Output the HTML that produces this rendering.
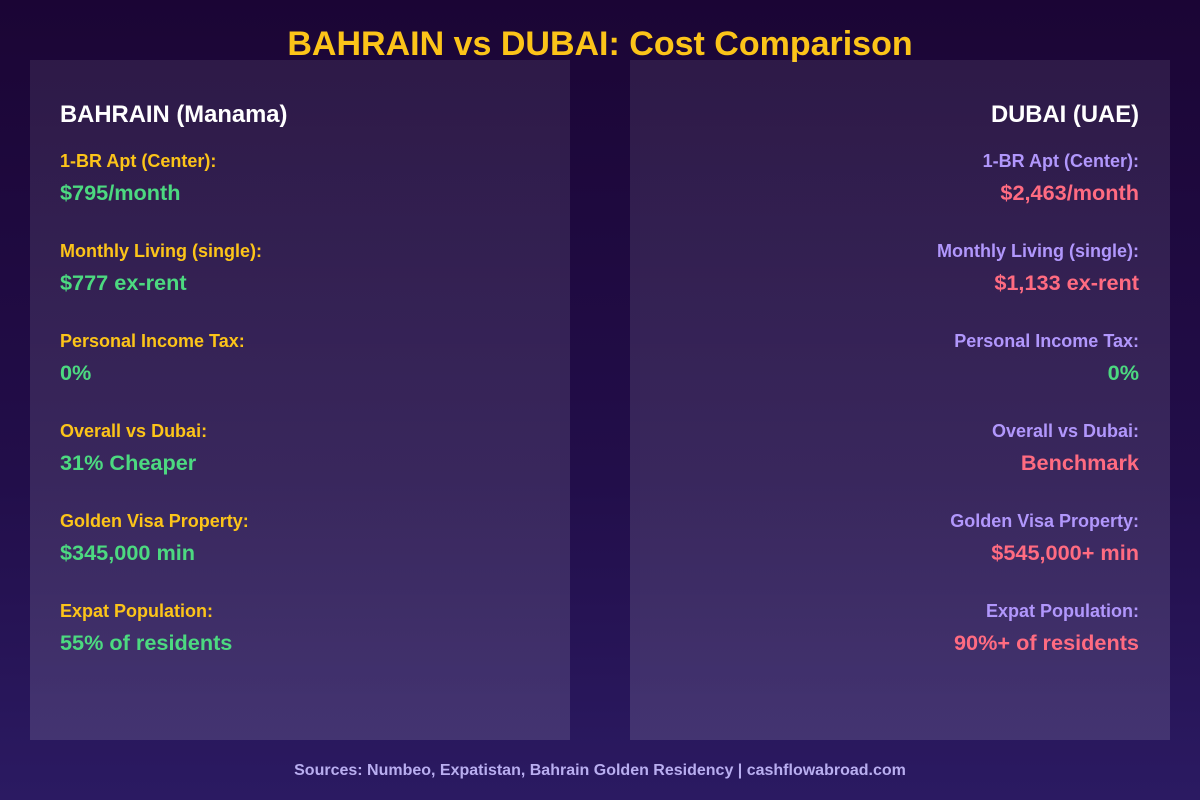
<!DOCTYPE html>
<html><head><meta charset="utf-8"><style>
body{margin:0;width:1200px;height:800px;overflow:hidden;background:linear-gradient(180deg,#1b0535 0%,#220e4a 60%,#2b1a62 100%);font-family:"Liberation Sans",sans-serif;font-weight:bold;position:relative}
.t{position:absolute;white-space:nowrap;line-height:1}
.panel{position:absolute;top:60px;width:540px;height:680px;background:linear-gradient(180deg,rgba(255,255,255,0.08),rgba(255,255,255,0.12))}
.h{font-size:23.8px;color:#fff}
.lab{font-size:18px}
.val{font-size:21.7px}
.l{left:60px}.r{right:61px;text-align:right}
</style></head><body>
<div class="t" style="left:0;width:1200px;text-align:center;top:27px;font-size:34px;color:#fcc419">BAHRAIN vs DUBAI: Cost Comparison</div>
<div class="panel" style="left:30px"></div>
<div class="panel" style="left:630px"></div>
<div class="t h l" style="top:103px">BAHRAIN (Manama)</div>
<div class="t h r" style="top:103px">DUBAI (UAE)</div>
<div id="rows"></div>
<div class="t" style="left:0;width:1200px;text-align:center;top:763px;font-size:16px;color:#b9aef0">Sources: Numbeo, Expatistan, Bahrain Golden Residency | cashflowabroad.com</div>
<script>
const labels=["1-BR Apt (Center):","Monthly Living (single):","Personal Income Tax:","Overall vs Dubai:","Golden Visa Property:","Expat Population:"];
const bahrainVals=["$795/month","$777 ex-rent","0%","31% Cheaper","$345,000 min","55% of residents"];
const dubaiVals=["$2,463/month","$1,133 ex-rent","0%","Benchmark","$545,000+ min","90%+ of residents"];
const dubaiGreen=[false,false,true,false,false,false];
const rows=document.getElementById('rows');
labels.forEach((lb,i)=>{
 const y=152+i*90;
 const mk=(cls,txt,top,color,name)=>{const d=document.createElement('div');d.className='t '+cls;d.textContent=txt;d.style.top=top+'px';d.style.color=color;
 
 
 rows.appendChild(d);};
 mk('lab l',lb,y,'#fcc419','bahrain-label-'+i);
 mk('val l',bahrainVals[i],y+30,'#4cd980','bahrain-value-'+i);
 mk('lab r',lb,y,'#b197fc','dubai-label-'+i);
 mk('val r',dubaiVals[i],y+30,dubaiGreen[i]?'#4cd980':'#ff6b81','dubai-value-'+i);
});
</script>
</body></html>
